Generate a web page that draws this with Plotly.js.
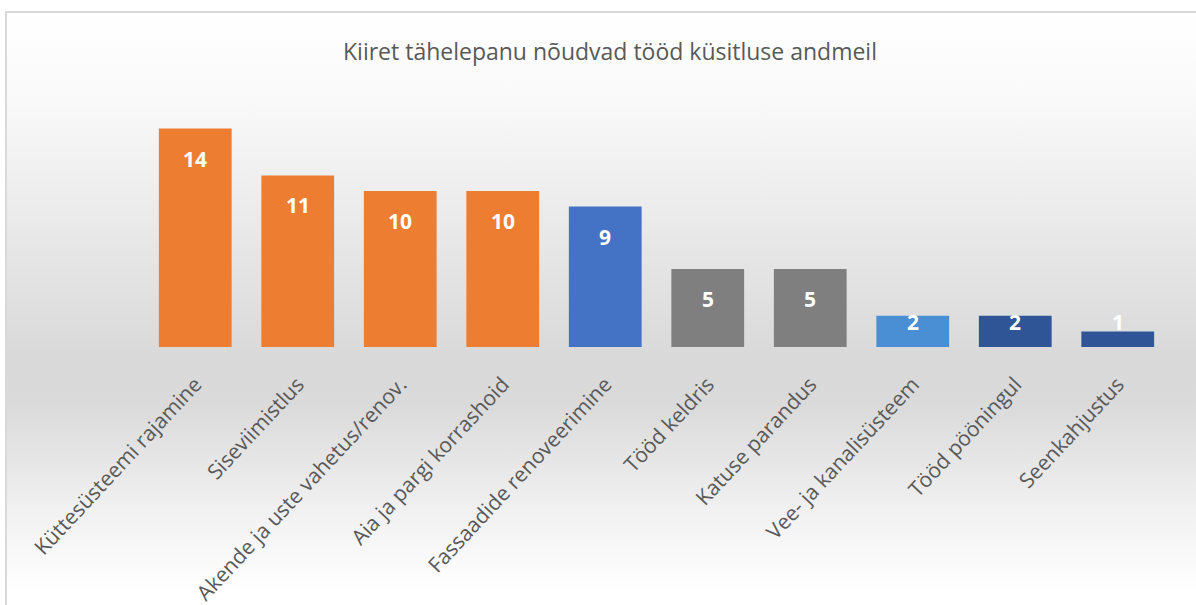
<!DOCTYPE html>
<html>
<head>
<meta charset="utf-8">
<script src="https://cdn.plot.ly/plotly-3.0.1.min.js"></script>
<style>
  html, body { margin: 0; padding: 0; width: 1196px; height: 605px; overflow: hidden; background: #ffffff; }
  #frame {
    position: absolute; left: 5px; top: 11px; width: 1191px; height: 594px;
    border-left: 2px solid #d9d9d9; border-top: 2px solid #d9d9d9; box-sizing: border-box;
    background: linear-gradient(to bottom, #ffffff 0%, #f9f9f9 15%, #eaeaea 35%, #d9d9d9 58%, #dadada 66%, #f2f2f2 85%, #ffffff 98%);
  }
  #chart { position: absolute; left: 0; top: 0; width: 1196px; height: 605px; }
</style>
</head>
<body>
<div id="frame"></div>
<div id="chart"></div>
<script>
const categories = [
  "Küttesüsteemi rajamine",
  "Siseviimistlus",
  "Akende ja uste vahetus/renov.",
  "Aia ja pargi korrashoid",
  "Fassaadide renoveerimine",
  "Tööd keldris",
  "Katuse parandus",
  "Vee- ja kanalisüsteem",
  "Tööd pööningul",
  "Seenkahjustus"
];
const values = [14, 11, 10, 10, 9, 5, 5, 2, 2, 1];
const barColors = ["#ED7D31", "#ED7D31", "#ED7D31", "#ED7D31", "#4472C4", "#7F7F7F", "#7F7F7F", "#4A8ED3", "#2F5597", "#2F5597"];
const titleText = "Kiiret tähelepanu nõudvad tööd küsitluse andmeil";

const W = 1196, H = 605;
const marginT = 113, marginB = 258;
const yMax = 15;
const pxPerUnit = (H - marginT - marginB) / yMax;

const trace = {
  type: "bar",
  x: categories,
  y: values,
  marker: { color: barColors, line: { width: 0 } },
  hoverinfo: "skip",
  showlegend: false
};

const annotations = values.map((v, i) => ({
  x: categories[i],
  y: v,
  xref: "x",
  yref: "y",
  text: String(v),
  showarrow: false,
  yanchor: "middle",
  yshift: Math.max(-30, 25 - v * pxPerUnit),
  font: { family: "Open Sans, sans-serif", size: 21, color: "#ffffff", weight: "bold" }
}));

const layout = {
  width: W,
  height: H,
  paper_bgcolor: "rgba(0,0,0,0)",
  plot_bgcolor: "rgba(0,0,0,0)",
  margin: { l: 144, r: 27, t: marginT, b: marginB, pad: 0 },
  bargap: 0.29,
  title: {
    text: titleText,
    x: 610 / W,
    xref: "container",
    xanchor: "center",
    y: 1 - 52 / H,
    yref: "container",
    yanchor: "middle",
    font: { family: "Open Sans, sans-serif", size: 23, color: "#595959" }
  },
  xaxis: {
    type: "category",
    tickangle: -47,
    tickfont: { family: "Open Sans, sans-serif", size: 21, color: "#595959" },
    ticklabelstandoff: 20,
    showgrid: false,
    zeroline: false,
    showline: false,
    ticks: "",
    ticklen: 0,
    automargin: false
  },
  yaxis: {
    range: [0, yMax],
    visible: false,
    showgrid: false,
    zeroline: false
  },
  annotations: annotations,
  font: { family: "Open Sans, sans-serif", color: "#595959" }
};

Plotly.newPlot("chart", [trace], layout, { displayModeBar: false, staticPlot: true });
</script>
</body>
</html>
